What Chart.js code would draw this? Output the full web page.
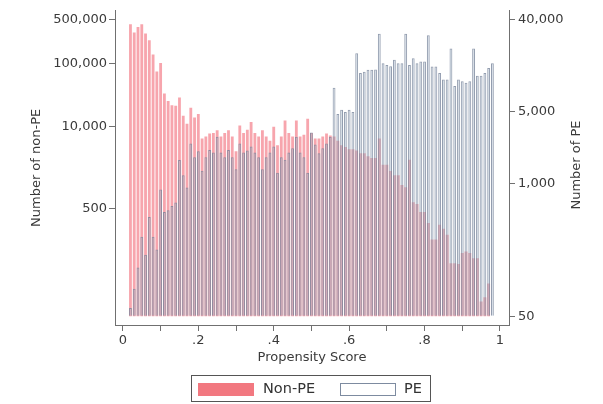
<!DOCTYPE html>
<html>
<head>
<meta charset="utf-8">
<script src="https://cdn.jsdelivr.net/npm/chart.js@4.4.0/dist/chart.umd.min.js"></script>
<style>
  html, body { margin: 0; padding: 0; background: #fff; }
  #wrap { position: relative; width: 603px; height: 404px; }
  #legend { position: absolute; left: 191px; top: 375px; width: 240px; height: 27px;
            border: 1px solid #555; box-sizing: border-box;
            font: 14.5px "DejaVu Sans", sans-serif; color: #333; }
  #legend span { position: absolute; }
  .sw { top: 7px; width: 56px; height: 13px; box-sizing: border-box; }
  .red { left: 6px; background: #f27880; }
  .pe { left: 148px; background: #fff; border: 1px solid #7d8ba0; }
  .lab { top: 4px; line-height: 17px; }
</style>
</head>
<body>
<div id="wrap">
  <canvas id="chart" width="603" height="404"></canvas>
  <div id="legend">
    <span class="sw red"></span><span class="lab" style="left:71px">Non-PE</span>
    <span class="sw pe"></span><span class="lab" style="left:212px">PE</span>
  </div>
</div>
<script>
// histogram bins (propensity score, bin centre)
const propensityBins = [0.02, 0.03, 0.04, 0.05, 0.06, 0.07, 0.08, 0.09, 0.10,
  0.11, 0.12, 0.13, 0.14, 0.15, 0.16, 0.17, 0.18, 0.19, 0.20,
  0.21, 0.22, 0.23, 0.24, 0.25, 0.26, 0.27, 0.28, 0.29, 0.30,
  0.31, 0.32, 0.33, 0.34, 0.35, 0.36, 0.37, 0.38, 0.39, 0.40,
  0.41, 0.42, 0.43, 0.44, 0.45, 0.46, 0.47, 0.48, 0.49, 0.50,
  0.51, 0.52, 0.53, 0.54, 0.55, 0.56, 0.57, 0.58, 0.59, 0.60,
  0.61, 0.62, 0.63, 0.64, 0.65, 0.66, 0.67, 0.68, 0.69, 0.70,
  0.71, 0.72, 0.73, 0.74, 0.75, 0.76, 0.77, 0.78, 0.79, 0.80,
  0.81, 0.82, 0.83, 0.84, 0.85, 0.86, 0.87, 0.88, 0.89, 0.90,
  0.91, 0.92, 0.93, 0.94, 0.95, 0.96, 0.97, 0.98];

const nonPECounts = [420000, 310000, 380000, 420000, 300000, 234000, 140000, 75000, 102000,
  33500, 25700, 22000, 21500, 29000, 15000, 11200, 20000, 14000, 16000,
  6500, 7000, 7800, 8000, 8800, 7000, 8000, 8800, 7000, 4100,
  10500, 8000, 9000, 11900, 8000, 7000, 8800, 7000, 6000, 10000,
  5100, 7000, 12600, 8000, 7000, 12600, 7000, 7500, 13400, 8000,
  6500, 6500, 7000, 7800, 7300, 7000, 6000, 5100, 4800, 4400,
  4400, 4200, 3800, 3800, 3400, 3200, 3200, 6500, 2500, 2500,
  2000, 1700, 1700, 1200, 1100, 3000, 640, 600, 445, 445,
  300, 163, 163, 280, 242, 195, 69, 69, 67, 100,
  106, 100, 83, 83, 17, 20, 33, null];

const peCounts = [60, 93, 150, 300, 200, 468, 300, 225, 870,
  523, 545, 600, 650, 1690, 1200, 910, 2460, 1800, 2060,
  1325, 1800, 2120, 2000, 2860, 2000, 1800, 2120, 1800, 1370,
  2460, 2000, 2100, 2300, 2000, 1800, 1370, 1800, 2000, 2300,
  1270, 1800, 1700, 2000, 2200, 2860, 2000, 1800, 1270, 3150,
  2400, 1970, 2200, 2460, 2860, 8640, 4780, 5240, 5000, 5240,
  5000, 18750, 12050, 12400, 12950, 12950, 13000, 29200, 15000, 14400,
  14000, 16200, 15000, 15000, 29200, 14400, 16800, 15000, 15600, 15600,
  28100, 13900, 13900, 12050, 10400, 10400, 20900, 8950, 10400, 10000,
  9650, 10000, 20900, 11300, 11300, 12000, 13450, 15000];

const leftTicks = [500, 10000, 100000, 500000];
const rightTicks = [50, 1000, 5000, 40000];
const xTicks = [0, 0.1, 0.2, 0.3, 0.4, 0.5, 0.6, 0.7, 0.8, 0.9, 1];
const xTickLabels = ['0', '', '.2', '', '.4', '', '.6', '', '.8', '', '1'];

const axisColor = '#707070';
const textColor = '#3a3a3a';
const fontFamily = '"DejaVu Sans", sans-serif';

// right-hand title reads bottom to top, like the left one
const rightTitle = {
  id: 'rightTitle',
  afterDraw(chart) {
    const ctx = chart.ctx;
    ctx.save();
    ctx.translate(577, 165);
    ctx.rotate(-Math.PI / 2);
    ctx.font = '13px ' + fontFamily;
    ctx.fillStyle = textColor;
    ctx.textAlign = 'center';
    ctx.textBaseline = 'middle';
    ctx.fillText('Number of PE', 0, 0);
    ctx.restore();
  }
};

function toPoints(values) {
  return propensityBins.map((x, i) => ({ x: x, y: values[i] }));
}

new Chart(document.getElementById('chart'), {
  type: 'bar',
  data: {
    datasets: [{
      label: 'Non-PE',
      data: toPoints(nonPECounts),
      yAxisID: 'yNon',
      base: 10,
      backgroundColor: 'rgba(242, 110, 122, 0.62)',
      borderWidth: 0,
      order: 1
    }, {
      label: 'PE',
      data: toPoints(peCounts),
      yAxisID: 'yPE',
      base: 50,
      backgroundColor: 'rgba(175, 192, 210, 0.45)',
      borderColor: 'rgba(120, 132, 155, 0.8)',
      borderWidth: 1,
      order: 0
    }]
  },
  options: {
    responsive: false,
    animation: false,
    grouped: false,
    barPercentage: 0.75,
    categoryPercentage: 1,
    layout: { padding: { top: 5, left: 25, right: 0, bottom: 35 } },
    plugins: {
      legend: { display: false },
      tooltip: { enabled: false }
    },
    scales: {
      x: {
        type: 'linear',
        offset: false,
        min: -0.021,
        max: 1.024,
        afterBuildTicks: s => { s.ticks = xTicks.map(v => ({ value: v })); },
        afterFit: s => { s.height = 44; },
        ticks: {
          autoSkip: false, maxRotation: 0, padding: 2,
          color: textColor, font: { family: fontFamily, size: 13 },
          callback: (v, i) => xTickLabels[i]
        },
        grid: { display: true, drawOnChartArea: false, tickLength: 6, color: axisColor, offset: false },
        border: { color: axisColor },
        title: { display: true, text: 'Propensity Score', color: textColor, font: { family: fontFamily, size: 13 } }
      },
      yNon: {
        type: 'logarithmic',
        position: 'left',
        min: 7.24,
        max: 687000,
        afterBuildTicks: s => { s.ticks = leftTicks.map(v => ({ value: v })); },
        afterFit: s => { s.width = 90; },
        ticks: {
          padding: 2, color: textColor, font: { family: fontFamily, size: 13 },
          callback: v => v.toLocaleString('en-US')
        },
        grid: { display: true, drawOnChartArea: false, tickLength: 6, color: axisColor },
        border: { color: axisColor },
        title: { display: true, text: 'Number of non-PE', color: textColor, font: { family: fontFamily, size: 13 } }
      },
      yPE: {
        type: 'logarithmic',
        position: 'right',
        min: 41,
        max: 48900,
        afterBuildTicks: s => { s.ticks = rightTicks.map(v => ({ value: v })); },
        afterFit: s => { s.width = 94; },
        ticks: {
          padding: 3, color: textColor, font: { family: fontFamily, size: 13 },
          callback: v => v.toLocaleString('en-US')
        },
        grid: { display: true, drawOnChartArea: false, tickLength: 6, color: axisColor },
        border: { color: axisColor }
      }
    }
  },
  plugins: [rightTitle]
});
</script>
</body>
</html>
